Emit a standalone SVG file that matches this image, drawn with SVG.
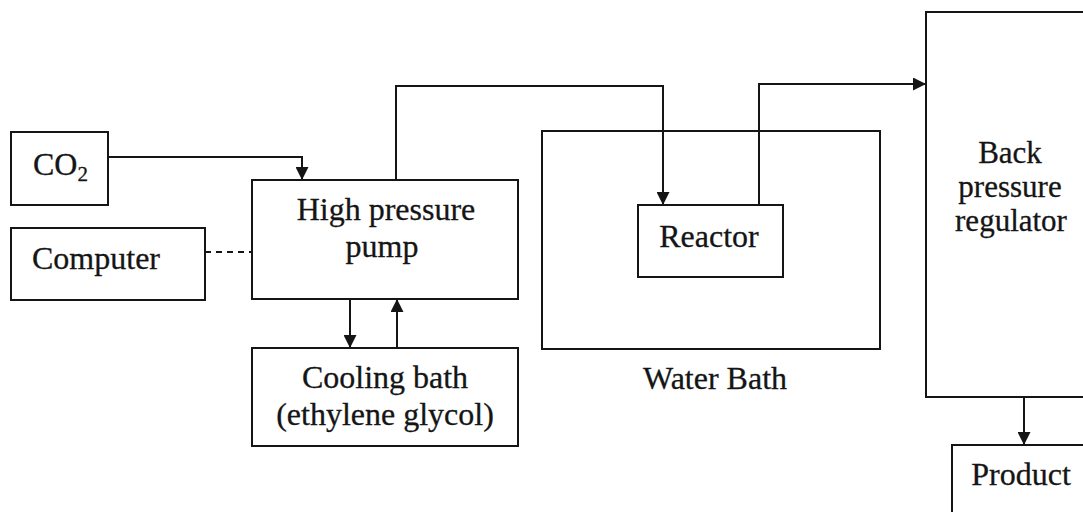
<svg xmlns="http://www.w3.org/2000/svg" width="1083" height="512" viewBox="0 0 1083 512">
<style>
.box{fill:none;stroke:#151515;stroke-width:2}
.ln{fill:none;stroke:#151515;stroke-width:2}
.t{font-family:"Liberation Serif","Times New Roman",serif;font-size:32px;fill:#151515;stroke:#151515;stroke-width:0.3}
.s{font-size:31px}
.c{text-anchor:middle}
</style>
<defs>
<marker id="ah" viewBox="0 0 13 13" refX="13" refY="6.5" markerWidth="13" markerHeight="13" markerUnits="userSpaceOnUse" orient="auto">
<path d="M0,0 L13,6.5 L0,13 z" fill="#151515"/>
</marker>
</defs>
<rect width="1083" height="512" fill="#fff"/>
<g id="co2"><rect class="box" x="11" y="132" width="97" height="73"/><text class="t" x="33" y="175">CO<tspan font-size="21" dy="6">2</tspan></text></g>
<g id="computer"><rect class="box" x="11" y="228" width="194" height="72"/><text class="t" x="32" y="269">Computer</text></g>
<g id="pump"><rect class="box" x="252" y="180" width="266" height="119"/><text class="t c" x="386" y="220">High pressure</text><text class="t c" x="382" y="257">pump</text></g>
<g id="cooling"><rect class="box" x="252" y="348" width="266" height="98"/><text class="t c" x="385" y="388">Cooling bath</text><text class="t c" x="385" y="425">(ethylene glycol)</text></g>
<g id="waterbath"><rect class="box" x="542" y="131" width="338" height="218"/><text class="t c" x="715" y="389">Water Bath</text></g>
<g id="reactor"><rect class="box" x="638" y="205" width="145" height="72"/><text class="t c" x="709" y="247">Reactor</text></g>
<g id="bpr"><rect class="box" x="926" y="12" width="170" height="385"/><text class="t s c" x="1010" y="163">Back</text><text class="t s c" x="1010" y="197">pressure</text><text class="t s c" x="1011" y="231">regulator</text></g>
<g id="product"><rect class="box" x="952" y="445" width="150" height="80"/><text class="t c" x="1021" y="485">Product</text></g>
<g id="connectors">
<path class="ln" d="M108,157 H302 V180" marker-end="url(#ah)"/>
<path class="ln" d="M205,252 H252" stroke-dasharray="6,5"/>
<path class="ln" d="M396,180 V86 H663 V205" marker-end="url(#ah)"/>
<path class="ln" d="M759,205 V84 H926" marker-end="url(#ah)"/>
<path class="ln" d="M350,299 V348" marker-end="url(#ah)"/>
<path class="ln" d="M397,348 V299" marker-end="url(#ah)"/>
<path class="ln" d="M1024,397 V445" marker-end="url(#ah)"/>
</g>
</svg>
